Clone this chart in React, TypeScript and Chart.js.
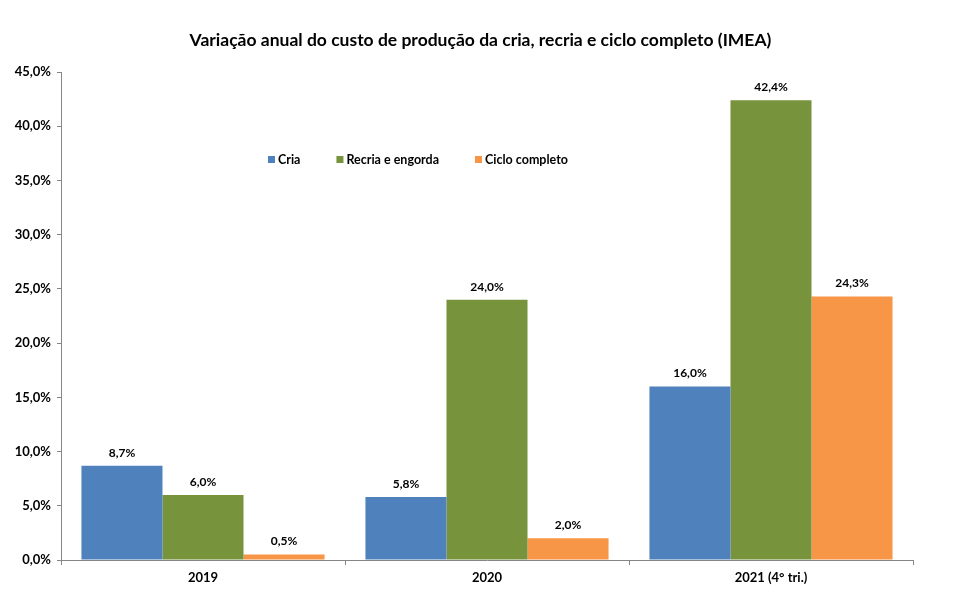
import React, { useEffect, useRef } from "react";
import { Chart, registerables } from "chart.js";

Chart.register(...registerables);

const categories = ["2019", "2020", "2021 (4° tri.)"];
const seriesNames = ["Cria", "Recria e engorda", "Ciclo completo"];
const cria = [8.7, 5.8, 16.0];
const recria = [6.0, 24.0, 42.4];
const ciclo = [0.5, 2.0, 24.3];
const colors = ["#4F81BD", "#77933C", "#F79646"];
const titleText = "Variação anual do custo de produção da cria, recria e ciclo completo (IMEA)";
const FONT = "Lato, 'Open Sans', sans-serif";

const fmt = (v: number) => v.toFixed(1).replace(".", ",") + "%";

export default function App() {
  const ref = useRef<HTMLCanvasElement | null>(null);
  useEffect(() => {
    document.body.style.margin = "0";
    const canvas = ref.current;
    if (!canvas) return;

    const overlay = {
      id: "overlay",
      afterDraw(chart: any) {
        const ctx = chart.ctx;
        const area = chart.chartArea;
        ctx.save();
        // title
        ctx.fillStyle = "#000";
        ctx.font = `bold 17.5px ${FONT}`;
        ctx.textAlign = "center";
        ctx.textBaseline = "middle";
        ctx.fillText(titleText, chart.width / 2, 40);
        // data labels
        ctx.font = `bold 12px ${FONT}`;
        chart.data.datasets.forEach((ds: any, i: number) => {
          const meta = chart.getDatasetMeta(i);
          meta.data.forEach((bar: any, j: number) => {
            ctx.fillText(fmt(ds.data[j]), bar.x, bar.y - 13);
          });
        });
        // legend
        ctx.font = `bold 12.5px ${FONT}`;
        ctx.textAlign = "left";
        let x = area.left + 207;
        const y = 160;
        chart.data.datasets.forEach((ds: any) => {
          ctx.fillStyle = ds.backgroundColor;
          ctx.fillRect(x, y - 4, 7, 7);
          ctx.fillStyle = "#000";
          ctx.fillText(ds.label, x + 10, y);
          x += 10 + ctx.measureText(ds.label).width + 36;
        });
        ctx.restore();
      },
    };

    const chart = new Chart(canvas, {
      type: "bar",
      data: {
        labels: categories,
        datasets: [
          { label: seriesNames[0], data: cria, backgroundColor: colors[0] },
          { label: seriesNames[1], data: recria, backgroundColor: colors[1] },
          { label: seriesNames[2], data: ciclo, backgroundColor: colors[2] },
        ],
      },
      options: {
        responsive: false,
        animation: false,
        layout: { padding: { top: 72, right: 48, left: 0, bottom: 0 } },
        plugins: {
          legend: { display: false },
          title: { display: false },
          tooltip: { enabled: false },
        },
        datasets: { bar: { categoryPercentage: 0.856, barPercentage: 1 } },
        scales: {
          x: {
            grid: {
              offset: true,
              drawOnChartArea: false,
              tickLength: 5,
              color: "#868686",
            },
            border: { color: "#868686", width: 1 },
            ticks: {
              color: "#000",
              font: { family: FONT, size: 13, weight: "bold" },
              padding: 5,
            },
            afterFit(scale: any) {
              scale.height = 34;
            },
          },
          y: {
            min: 0,
            max: 45,
            ticks: {
              stepSize: 5,
              color: "#000",
              font: { family: FONT, size: 13, weight: "bold" },
              padding: 6,
              callback: (v: any) => fmt(Number(v)),
            },
            grid: {
              drawOnChartArea: false,
              tickLength: 4,
              color: "#868686",
            },
            border: { color: "#868686", width: 1 },
            afterFit(scale: any) {
              scale.width = 61;
            },
          },
        },
      },
      plugins: [overlay],
    } as any);
    return () => chart.destroy();
  }, []);

  return (
    <div style={{ position: "fixed", left: 0, top: 0, width: 961, height: 594, background: "#fff" }}>
      <canvas ref={ref} width={961} height={594} style={{ display: "block" }} />
    </div>
  );
}
